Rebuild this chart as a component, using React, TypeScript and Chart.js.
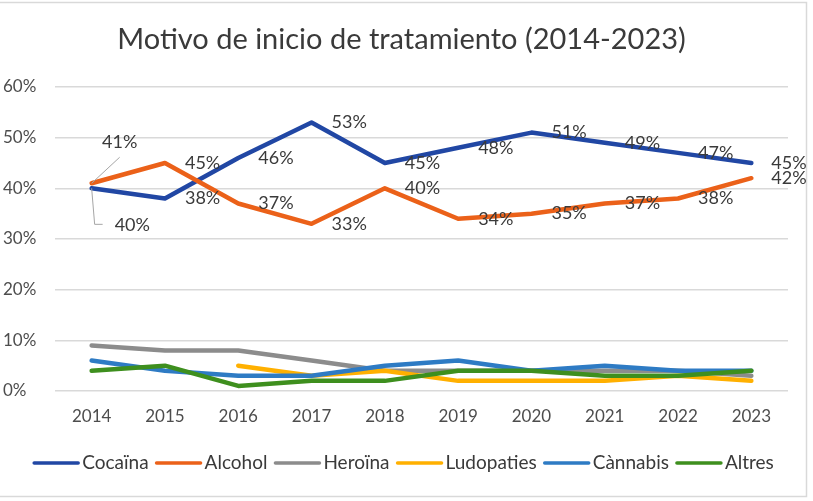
import React, { useEffect, useRef } from 'react';
import { Chart, registerables } from 'chart.js';

Chart.register(...registerables);

const TITLE = 'Motivo de inicio de tratamiento (2014-2023)';
const years = ['2014', '2015', '2016', '2017', '2018', '2019', '2020', '2021', '2022', '2023'];
const seriesNames = ['Cocaïna', 'Alcohol', 'Heroïna', 'Ludopaties', 'Cànnabis', 'Altres'];
const cocaina = [40, 38, 46, 53, 45, 48, 51, 49, 47, 45];
const alcohol = [41, 45, 37, 33, 40, 34, 35, 37, 38, 42];
const heroina = [9, 8, 8, 6, 4, 4, 4, 4, 4, 3];
const ludopaties = [null, null, 5, 3, 4, 2, 2, 2, 3, 2];
const cannabis = [6, 4, 3, 3, 5, 6, 4, 5, 4, 4];
const altres = [4, 5, 1, 2, 2, 4, 4, 3, 3, 4];
const yMin = 0;
const yMax = 60;
const yStep = 10;
const labeledSeries = [0, 1];

const colors = ['#2147A4', '#EB6119', '#8C8C8C', '#FFB000', '#2E7BC4', '#3E8F1E'];
const FONT = 'Lato, "Open Sans", sans-serif';

const overlayPlugin = {
  id: 'overlay',
  beforeDraw(chart: any) {
    const ctx = chart.ctx;
    ctx.save();
    ctx.fillStyle = '#ffffff';
    ctx.fillRect(0, 0, chart.width, chart.height);
    ctx.strokeStyle = '#d9d9d9';
    ctx.lineWidth = 1.5;
    ctx.beginPath();
    ctx.moveTo(0, 2.5);
    ctx.lineTo(806.5, 2.5);
    ctx.lineTo(806.5, 496.5);
    ctx.lineTo(0, 496.5);
    ctx.stroke();
    // title
    ctx.fillStyle = '#3a3a3a';
    ctx.font = `29px ${FONT}`;
    ctx.textAlign = 'center';
    ctx.textBaseline = 'alphabetic';
    ctx.fillText(TITLE, 401.5, 49);
    ctx.restore();
  },
  afterDatasetsDraw(chart: any) {
    const ctx = chart.ctx;
    ctx.save();
    ctx.font = `18px ${FONT}`;
    ctx.fillStyle = '#3a3a3a';
    labeledSeries.forEach((di) => {
      const meta = chart.getDatasetMeta(di);
      const data = chart.data.datasets[di].data;
      meta.data.forEach((pt: any, i: number) => {
        const v = data[i];
        if (v === null || v === undefined) return;
        const txt = `${v}%`;
        const x = pt.x;
        const y = pt.y;
        if (i === 0) {
          ctx.strokeStyle = '#a6a6a6';
          ctx.lineWidth = 1;
          ctx.beginPath();
          if (di === 0) {
            ctx.moveTo(x, y);
            ctx.lineTo(x + 3, y + 36);
            ctx.lineTo(x + 11, y + 36);
            ctx.stroke();
            ctx.textAlign = 'left';
            ctx.textBaseline = 'middle';
            ctx.fillText(txt, x + 23, y + 37);
          } else {
            ctx.moveTo(x, y);
            ctx.lineTo(x + 28, y - 26);
            ctx.stroke();
            ctx.textAlign = 'center';
            ctx.textBaseline = 'middle';
            ctx.fillText(txt, x + 28, y - 41);
          }
        } else {
          ctx.textAlign = 'left';
          ctx.textBaseline = 'middle';
          ctx.fillText(txt, x + 20, y);
        }
      });
    });
    ctx.restore();
  },
  afterDraw(chart: any) {
    const ctx = chart.ctx;
    ctx.save();
    ctx.font = `19px ${FONT}`;
    const lineW = 48;
    const gapLT = 2;
    const gapItem = 6;
    const items = chart.data.datasets.map((d: any) => ({
      label: d.label,
      color: d.borderColor,
      w: ctx.measureText(d.label).width,
    }));
    let total = 0;
    items.forEach((it: any, i: number) => {
      total += lineW + gapLT + it.w + (i < items.length - 1 ? gapItem : 0);
    });
    let x = 403 - total / 2;
    const y = 463;
    items.forEach((it: any) => {
      ctx.strokeStyle = it.color;
      ctx.lineWidth = 3.5;
      ctx.lineCap = 'round';
      ctx.beginPath();
      ctx.moveTo(x + 2, y);
      ctx.lineTo(x + lineW - 2, y);
      ctx.stroke();
      ctx.fillStyle = '#3a3a3a';
      ctx.textAlign = 'left';
      ctx.textBaseline = 'middle';
      ctx.fillText(it.label, x + lineW + gapLT, y);
      x += lineW + gapLT + it.w + gapItem;
    });
    ctx.restore();
  },
};

export default function App() {
  const ref = useRef<HTMLCanvasElement | null>(null);
  useEffect(() => {
    document.body.style.margin = '0';
    const canvas = ref.current;
    if (!canvas) return;
    const all = [cocaina, alcohol, heroina, ludopaties, cannabis, altres];
    const chart = new Chart(canvas, {
      type: 'line',
      data: {
        labels: years,
        datasets: all.map((d, i) => ({
          label: seriesNames[i],
          data: d as any,
          borderColor: colors[i],
          backgroundColor: colors[i],
          borderWidth: 4.5,
          pointRadius: 0,
          tension: 0,
          borderCapStyle: 'round',
          borderJoinStyle: 'round',
          order: all.length - 1 - i,
        })),
      },
      options: {
        responsive: false,
        animation: false,
        devicePixelRatio: 1,
        layout: { padding: { top: 87, left: 3, right: 25, bottom: 70 } },
        plugins: {
          legend: { display: false },
          title: { display: false },
          tooltip: { enabled: false },
        },
        scales: {
          x: {
            offset: true,
            grid: { display: false, drawTicks: false },
            border: { display: false },
            ticks: {
              color: '#4d4d4d',
              font: { family: FONT, size: 17 },
              padding: 15,
              maxRotation: 0,
            },
            afterFit: (s: any) => {
              s.height = 40;
            },
          },
          y: {
            min: yMin,
            max: yMax,
            grid: { color: '#d9d9d9', lineWidth: 1.5, drawTicks: false },
            border: { display: false },
            ticks: {
              stepSize: yStep,
              color: '#4d4d4d',
              font: { family: FONT, size: 17 },
              crossAlign: 'far',
              padding: 0,
              callback: (v: any) => `${v}%`,
            },
            afterFit: (s: any) => {
              s.width = 52;
            },
          },
        },
      },
      plugins: [overlayPlugin],
    });
    return () => chart.destroy();
  }, []);
  return (
    <div style={{ width: 813, height: 501 }}>
      <canvas ref={ref} width={813} height={501} style={{ display: 'block', width: 813, height: 501 }} />
    </div>
  );
}
